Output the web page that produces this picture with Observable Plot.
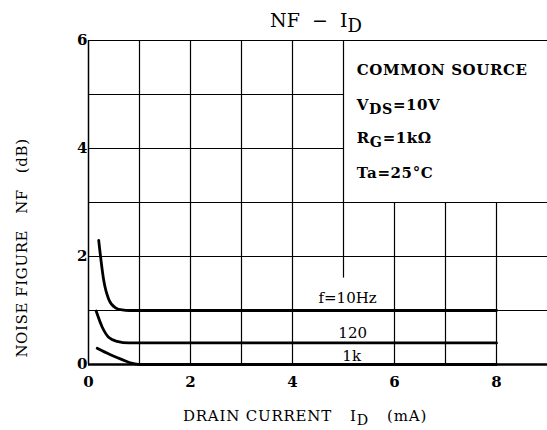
<!DOCTYPE html>
<html><head><meta charset="utf-8">
<script src="https://cdn.jsdelivr.net/npm/d3@7"></script>
<script src="https://cdn.jsdelivr.net/npm/@observablehq/plot@0.6"></script>
<style>body{margin:0;background:#fff} svg{font-family:"DejaVu Serif",serif}</style>
</head><body><div id="chart"></div>
<script>
// Tick labels
const xTicks = [0, 2, 4, 6, 8];
const yTicks = [0, 2, 4, 6];

// Curves: drain current (mA) vs noise figure (dB)
const id10 = [0.2, 0.3, 0.4, 0.53, 0.66, 0.8, 8];
const nf10 = [2.3, 1.55, 1.2, 1.05, 1.01, 1.0, 1.0];
const id120 = [0.15, 0.27, 0.4, 0.56, 0.79, 1.0, 8];
const nf120 = [0.99, 0.69, 0.5, 0.43, 0.40, 0.40, 0.40];
const id1k = [0.17, 0.43, 0.66, 0.86, 1.0, 8];
const nf1k = [0.30, 0.18, 0.09, 0.02, 0.0, 0.0];

const curveNames = ["f=10Hz", "120", "1k"];
const labelX = [5.08, 5.18, 5.16];
const labelY = [1.13, 0.5, 0.07];

// Grid structure (with blank area for conditions box)
const hGridY = [1, 2, 3, 4, 5, 6];
const hGridX2 = [9, 9, 9, 5, 5, 9];
const vGridX = [1, 2, 3, 4, 5, 6, 7, 8];
const vGridY1 = [0, 0, 0, 0, 1.6, 0, 0, 0];
const vGridY2 = [6, 6, 6, 6, 6, 3, 3, 3];

// Conditions text
const condLines = [
  [["COMMON SOURCE", ""]],
  [["V", ""], ["DS", "sub"], ["=10V", ""]],
  [["R", ""], ["G", "sub"], ["=1kΩ", ""]],
  [["Ta=25°C", ""]]
];
const condX = 5.27;
const condY = [5.35, 4.70, 4.09, 3.44];

const toRows = (xs, ys) => xs.map((x, i) => ({x, y: ys[i]}));
const curves = [
  ...toRows(id10, nf10).map(d => ({...d, s: "10"})),
  ...toRows(id120, nf120).map(d => ({...d, s: "120"})),
  ...toRows(id1k, nf1k).map(d => ({...d, s: "1k"}))
];
const hGrid = hGridY.map((y, i) => ({y, x2: hGridX2[i]}));
const vGrid = vGridX.map((x, i) => ({x, y1: vGridY1[i], y2: vGridY2[i]}));
const labels = curveNames.map((t, i) => ({t, x: labelX[i], y: labelY[i]}));

const plot = Plot.plot({
  width: 547, height: 430,
  marginLeft: 88, marginRight: 0, marginTop: 40, marginBottom: 66,
  style: {fontFamily: "DejaVu Serif", fontSize: "14px", background: "#fff", color: "#000", overflow: "visible"},
  x: {domain: [0, 9], ticks: xTicks, tickSize: 0, tickPadding: 12, tickFormat: "d", label: null},
  y: {domain: [0, 6], ticks: yTicks, tickSize: 0, tickPadding: 1, tickFormat: "d", label: null},
  marks: [
    Plot.ruleY(hGrid, {y: "y", x1: 0, x2: "x2", stroke: "#000", strokeWidth: 1.2}),
    Plot.ruleX(vGrid, {x: "x", y1: "y1", y2: "y2", stroke: "#000", strokeWidth: 1.2}),
    Plot.ruleX([0], {y1: 0, y2: 6, stroke: "#000", strokeWidth: 1.5}),
    Plot.ruleY([0], {x1: 0, x2: 9, stroke: "#000", strokeWidth: 2.5}),
    Plot.line(curves, {x: "x", y: "y", z: "s", curve: "monotone-x", stroke: "#000", strokeWidth: 2.8}),
    Plot.text(labels, {x: "x", y: "y", text: "t", textAnchor: "middle", lineAnchor: "bottom", fontSize: 15, fill: "#000"})
  ]
});

const svg = d3.select(plot);
svg.selectAll("[aria-label^='x-axis'] text, [aria-label^='y-axis'] text").attr("font-weight", "bold").attr("font-size", 15);

const sx = plot.scale("x"), sy = plot.scale("y");

function addText(x, y, parts, opts = {}) {
  const size = opts.size || 14;
  const t = svg.append("text").attr("x", x).attr("y", y).attr("fill", "#000")
    .attr("font-family", "DejaVu Serif").attr("font-size", size)
    .attr("font-weight", opts.weight || "normal")
    .attr("letter-spacing", opts.spacing || 0)
    .attr("text-anchor", opts.anchor || "start");
  if (opts.rotate) t.attr("transform", `rotate(-90 ${x} ${y})`);
  parts.forEach(([s, kind]) => {
    const ts = t.append("tspan").text(s);
    if (kind === "sub") ts.attr("baseline-shift", "-25%").attr("font-size", size * 0.95);
    if (kind === "gap") ts.attr("dx", opts.gap || 14);
  });
  return t;
}

// Conditions box text
condLines.forEach((parts, i) => addText(sx.apply(condX), sy.apply(condY[i]), parts, {size: 15, weight: "bold", spacing: 0.6}));

// Title
addText(316, 27, [["NF  −  I", ""], ["D", "sub"]], {size: 19, anchor: "middle"});

// X axis label
addText(305, 421, [["DRAIN CURRENT", ""], ["I", "gap"], ["D", "sub"], ["(mA)", "gap"]], {size: 15, anchor: "middle", spacing: 0.8, gap: 18});

// Y axis label
addText(27, 248, [["NOISE FIGURE", ""], ["NF", "gap"], ["(dB)", "gap"]], {size: 15, anchor: "middle", rotate: true, spacing: 0.6, gap: 16});

document.getElementById("chart").append(plot);
</script>
</body></html>
